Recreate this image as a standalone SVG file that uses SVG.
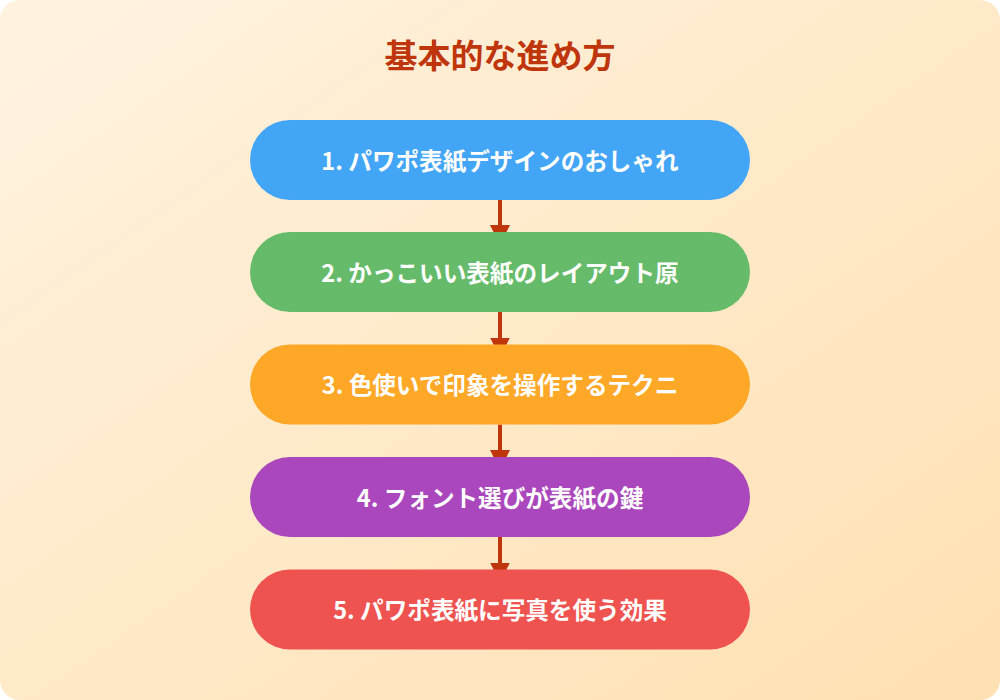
<svg xmlns="http://www.w3.org/2000/svg" width="1000" height="700" viewBox="0 0 1000 700">
  <defs>
    <linearGradient id="bg" x1="0" y1="0" x2="1" y2="1">
      <stop offset="0" stop-color="#FFF3E0"/>
      <stop offset="1" stop-color="#FFE0B2"/>
    </linearGradient>
    <marker id="arrow" markerUnits="userSpaceOnUse" markerWidth="20" markerHeight="20" refX="20" refY="10" orient="auto">
      <path d="M0,0 L20,10 L0,20 z" fill="#BF360C"/>
    </marker>
  </defs>
  <style>
    .title { font-family: "Noto Sans CJK JP", "Noto Sans", sans-serif; font-size: 33px; font-weight: bold; fill: #BF360C; text-anchor: middle; }
    .label { font-family: "Noto Sans CJK JP", "Noto Sans", sans-serif; font-size: 23.6px; font-weight: bold; fill: #FFFFFF; text-anchor: middle; }
    .conn { stroke: #BF360C; stroke-width: 4; fill: none; marker-end: url(#arrow); }
  </style>
  <rect x="0" y="0" width="1000" height="700" rx="20" ry="20" fill="url(#bg)"/>
  <text class="title" x="500" y="68">基本的な進め方</text>
  <g id="connectors">
    <line class="conn" x1="500" y1="200" x2="500" y2="245"/>
    <line class="conn" x1="500" y1="312" x2="500" y2="357.5"/>
    <line class="conn" x1="500" y1="424.5" x2="500" y2="470"/>
    <line class="conn" x1="500" y1="537" x2="500" y2="582.5"/>
  </g>
  <g id="node1">
    <rect x="250" y="120" width="500" height="80" rx="40" ry="40" fill="#42A5F5"/>
    <text class="label" x="500" y="169.5">1. パワポ表紙デザインのおしゃれ</text>
  </g>
  <g id="node2">
    <rect x="250" y="232" width="500" height="80" rx="40" ry="40" fill="#66BB6A"/>
    <text class="label" x="500" y="281.5">2. かっこいい表紙のレイアウト原</text>
  </g>
  <g id="node3">
    <rect x="250" y="344.5" width="500" height="80" rx="40" ry="40" fill="#FFA726"/>
    <text class="label" x="500" y="394">3. 色使いで印象を操作するテクニ</text>
  </g>
  <g id="node4">
    <rect x="250" y="457" width="500" height="80" rx="40" ry="40" fill="#AB47BC"/>
    <text class="label" x="500" y="506.5">4. フォント選びが表紙の鍵</text>
  </g>
  <g id="node5">
    <rect x="250" y="569.5" width="500" height="80" rx="40" ry="40" fill="#EF5350"/>
    <text class="label" x="500" y="619">5. パワポ表紙に写真を使う効果</text>
  </g>
</svg>
